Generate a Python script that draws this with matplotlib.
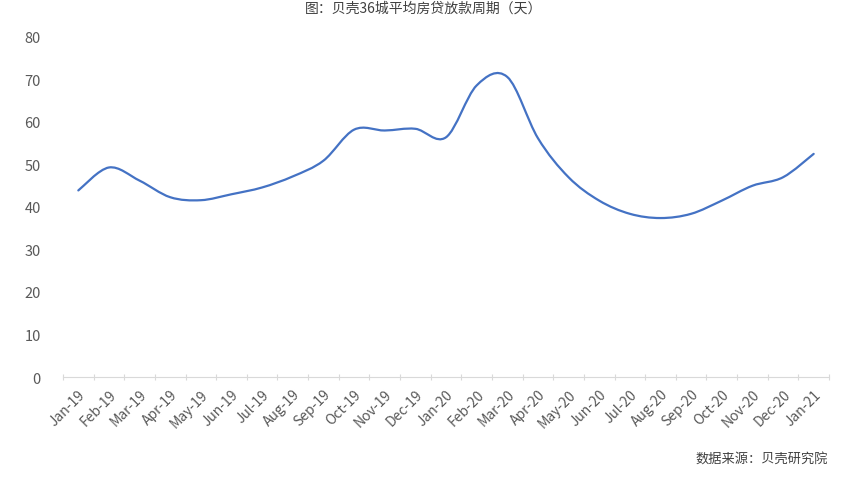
import numpy as np
import matplotlib.pyplot as plt
from matplotlib.path import Path
from matplotlib.patches import PathPatch

plt.rcParams['font.family'] = ['Noto Sans CJK SC', 'DejaVu Sans']

months = ['Jan-19', 'Feb-19', 'Mar-19', 'Apr-19', 'May-19', 'Jun-19', 'Jul-19',
          'Aug-19', 'Sep-19', 'Oct-19', 'Nov-19', 'Dec-19', 'Jan-20', 'Feb-20',
          'Mar-20', 'Apr-20', 'May-20', 'Jun-20', 'Jul-20', 'Aug-20', 'Sep-20',
          'Oct-20', 'Nov-20', 'Dec-20', 'Jan-21']
days = [43.9, 49.3, 46.2, 42.3, 41.6, 43.0, 44.6, 47.2, 50.9, 58.2, 58.0, 58.4,
        56.4, 68.6, 70.6, 56.2, 47.0, 41.5, 38.4, 37.4, 38.4, 41.5, 45.0, 47.0,
        52.5]

title = '图：贝壳36城平均房贷放款周期（天）'
source = '数据来源：贝壳研究院'

x = np.arange(len(months), dtype=float)
y = np.array(days)

# smoothed line like Excel: Catmull-Rom style bezier through the points
pts = np.column_stack([x, y])
ext = np.vstack([pts[0], pts, pts[-1]])
verts = [tuple(pts[0])]
codes = [Path.MOVETO]
for i in range(len(pts) - 1):
    p0, p1, p2, p3 = ext[i], ext[i + 1], ext[i + 2], ext[i + 3]
    c1 = p1 + (p2 - p0) / 6.0
    c2 = p2 - (p3 - p1) / 6.0
    verts += [tuple(c1), tuple(c2), tuple(p2)]
    codes += [Path.CURVE4] * 3

fig = plt.figure(figsize=(8.48, 4.81), dpi=100)
ax = fig.add_axes([63 / 848, 1 - 378 / 481, (829 - 63) / 848, (378 - 38) / 481])

ax.add_patch(PathPatch(Path(verts, codes), facecolor='none', edgecolor='#4472C4',
                       lw=1.6, capstyle='round', joinstyle='round'))

ax.set_xlim(-0.5, len(months) - 0.5)
ax.set_ylim(0, 80)
ax.set_yticks(range(0, 81, 10))
ax.set_xticks(np.arange(-0.5, len(months), 1.0))
ax.set_xticklabels([])
ax.set_xticks(x, minor=True)
ax.set_xticklabels(months, minor=True, rotation=45, ha='right', va='top',
                   rotation_mode='anchor')

for s in ['top', 'right', 'left']:
    ax.spines[s].set_visible(False)
ax.spines['bottom'].set_color('#D9D9D9')
ax.tick_params(axis='x', which='major', length=5, color='#D9D9D9', direction='inout')
ax.tick_params(axis='x', which='minor', length=0, pad=7, labelsize=10, labelcolor='#595959')
ax.tick_params(axis='y', length=0, pad=16, labelsize=10.5, labelcolor='#595959')

fig.text(0.5, 1 - 9 / 481, title, ha='center', va='center', fontsize=10, color='#404040')
fig.text(828 / 848, 1 - 460 / 481, source, ha='right', va='center', fontsize=9.5, color='#404040')

fig.savefig('out.png', dpi=100)
